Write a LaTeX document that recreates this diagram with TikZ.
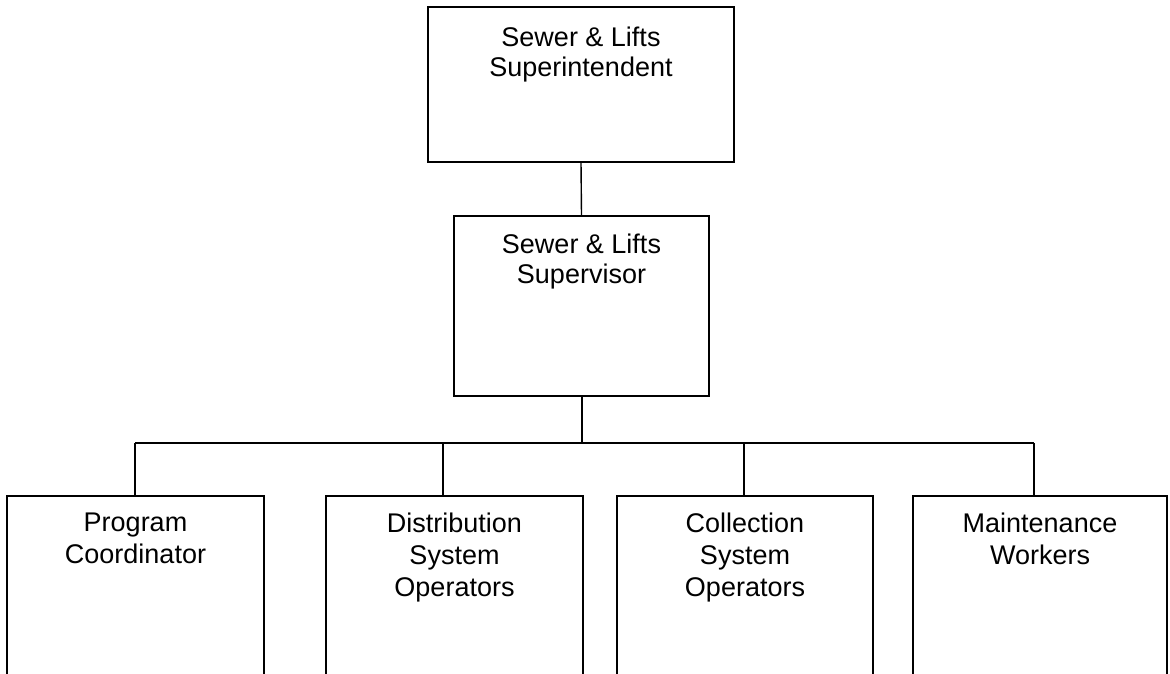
\documentclass[tikz,border=0pt]{standalone}
\usepackage{fontspec}
\setmainfont{Liberation Sans}
\begin{document}
\begin{tikzpicture}[x=1pt,y=-1pt,
  boxstyle/.style={draw=black,line width=1.4pt,rectangle,inner sep=0pt,fill=none},
  lblA/.style={anchor=north,inner sep=0pt,align=center,font=\fontsize{27}{30}\selectfont},
  lblB/.style={anchor=north,inner sep=0pt,align=center,font=\fontsize{27}{32}\selectfont},
  conn/.style={draw=black,line width=1.4pt}]
\useasboundingbox (0,0) rectangle (1170,673);
\clip (0,0) rectangle (1170,673);
\fill[white] (0,0) rectangle (1170,673);
% boxes
\node[boxstyle,minimum width=306pt,minimum height=155pt] (sup) at (581,84.5) {};
\node[boxstyle,minimum width=255pt,minimum height=180pt] (spv) at (581.5,306) {};
\node[boxstyle,minimum width=257pt,minimum height=250pt] (pc) at (135.5,621) {};
\node[boxstyle,minimum width=257pt,minimum height=250pt] (dso) at (454.5,621) {};
\node[boxstyle,minimum width=256pt,minimum height=250pt] (cso) at (745,621) {};
\node[boxstyle,minimum width=254pt,minimum height=250pt] (mw) at (1040,621) {};
% labels
\node[lblA] (tsup) at ([yshift=-20pt]sup.north) {Sewer \& Lifts\\Superintendent};
\node[lblA] (tspv) at ([yshift=-18pt]spv.north) {Sewer \& Lifts\\Supervisor};
\node[lblB] (tpc) at ([yshift=-17pt]pc.north) {Program\\Coordinator};
\node[lblB] (tdso) at ([yshift=-17pt]dso.north) {Distribution\\System\\Operators};
\node[lblB] (tcso) at ([yshift=-17pt]cso.north) {Collection\\System\\Operators};
\node[lblB] (tmw) at ([yshift=-17pt]mw.north) {Maintenance\\Workers};
% bus coordinates
\coordinate (bm) at (582,443);
\coordinate (b1) at (135,443);
\coordinate (b2) at (443,443);
\coordinate (b3) at (744,443);
\coordinate (b4) at (1034,443);
% connectors
\draw[conn] (sup.south) -- (spv.north);
\draw[conn] (bm |- spv.south) -- (bm);
\draw[conn] (b1) -- (b4);
\draw[conn] (b1) -- (b1 |- pc.north);
\draw[conn] (b2) -- (b2 |- dso.north);
\draw[conn] (b3) -- (b3 |- cso.north);
\draw[conn] (b4) -- (b4 |- mw.north);
\end{tikzpicture}
\end{document}
